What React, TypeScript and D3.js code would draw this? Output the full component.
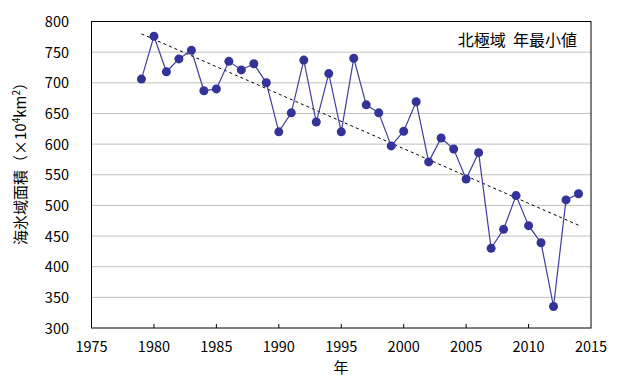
import React, { useEffect, useRef } from 'react';
import * as d3 from 'd3';

const years = [1979, 1980, 1981, 1982, 1983, 1984, 1985, 1986, 1987, 1988, 1989, 1990, 1991, 1992, 1993, 1994, 1995, 1996, 1997, 1998, 1999, 2000, 2001, 2002, 2003, 2004, 2005, 2006, 2007, 2008, 2009, 2010, 2011, 2012, 2013, 2014];
const iceArea = [706, 776, 718, 739, 753, 687, 690, 735, 721, 731, 700, 620, 651, 737, 636, 715, 620, 740, 664, 651, 597, 621, 669, 571, 610, 592, 543, 586, 430, 461, 516, 467, 439, 335, 509, 519];
const xTicks = [1975, 1980, 1985, 1990, 1995, 2000, 2005, 2010, 2015];
const yTicks = [300, 350, 400, 450, 500, 550, 600, 650, 700, 750, 800];
const title = '北極域  年最小値';

const App = () => {
	const ref = useRef<SVGSVGElement>(null);
	useEffect(() => drawChart(), []);

	function drawChart() {
		const svg = d3.select(ref.current);
		svg.selectAll('*').remove();
		const left = 91.5, right = 591, top = 21.5, bottom = 328;
		const font = "'Noto Sans CJK JP', 'Noto Sans', sans-serif";

		const x = d3.scaleLinear().domain([1975, 2015]).range([left, right]);
		const y = d3.scaleLinear().domain([300, 800]).range([bottom, top]);

		// gridlines
		svg.append('g').selectAll('line')
			.data(yTicks.filter(v => v > 300 && v < 800))
			.enter().append('line')
			.attr('x1', left).attr('x2', right)
			.attr('y1', d => y(d)).attr('y2', d => y(d))
			.attr('stroke', '#c0c0c0').attr('stroke-width', 1);

		// frame
		svg.append('rect')
			.attr('x', left).attr('y', top)
			.attr('width', right - left).attr('height', bottom - top)
			.attr('fill', 'none').attr('stroke', '#000').attr('stroke-width', 1);

		// x ticks (inside)
		svg.append('g').selectAll('line')
			.data(xTicks.slice(1, -1))
			.enter().append('line')
			.attr('x1', d => x(d)).attr('x2', d => x(d))
			.attr('y1', bottom).attr('y2', bottom - 4)
			.attr('stroke', '#000');

		svg.append('g').selectAll('text')
			.data(xTicks)
			.enter().append('text')
			.attr('x', d => x(d)).attr('y', 352)
			.attr('text-anchor', 'middle')
			.attr('font-family', font).attr('font-size', '14.5px')
			.text(d => d);

		svg.append('g').selectAll('text')
			.data(yTicks)
			.enter().append('text')
			.attr('x', 69).attr('y', d => y(d) + 5.5)
			.attr('text-anchor', 'end')
			.attr('font-family', font).attr('font-size', '14.5px')
			.text(d => d);

		// trend line (least squares)
		const mx = d3.mean(years)!, my = d3.mean(iceArea)!;
		const slope = d3.sum(years, (v, i) => (v - mx) * (iceArea[i] - my)) / d3.sum(years, v => (v - mx) * (v - mx));
		const trend = (v: number) => my + slope * (v - mx);
		const x0 = years[0], x1 = years[years.length - 1];
		svg.append('line')
			.attr('x1', x(x0)).attr('y1', y(trend(x0)))
			.attr('x2', x(x1)).attr('y2', y(trend(x1)))
			.attr('stroke', '#000').attr('stroke-width', 1)
			.attr('stroke-dasharray', '3,3');

		// series
		const line = d3.line<number>()
			.x((d, i) => x(years[i]))
			.y(d => y(d));
		svg.append('path')
			.datum(iceArea)
			.attr('d', line)
			.attr('fill', 'none')
			.attr('stroke', '#3f3fa0').attr('stroke-width', 1.2);
		svg.append('g').selectAll('circle')
			.data(iceArea)
			.enter().append('circle')
			.attr('cx', (d, i) => x(years[i]))
			.attr('cy', d => y(d))
			.attr('r', 4.5)
			.attr('fill', '#333399');

		// title
		svg.append('text')
			.attr('x', 577).attr('y', 45.5)
			.attr('text-anchor', 'end')
			.attr('font-family', font).attr('font-size', '16px')
			.attr('xml:space', 'preserve')
			.style('white-space', 'pre')
			.text(title);

		// axis titles
		svg.append('text')
			.attr('x', 341).attr('y', 373)
			.attr('text-anchor', 'middle')
			.attr('font-family', font).attr('font-size', '15px')
			.text('年');

		const yl = svg.append('text')
			.attr('transform', 'translate(26,160) rotate(-90)')
			.attr('text-anchor', 'middle')
			.attr('font-family', font).attr('font-size', '15px');
		yl.append('tspan').text('海氷域面積（×10');
		yl.append('tspan').attr('font-size', '10px').attr('dy', -6).text('4');
		yl.append('tspan').attr('dy', 6).text('km');
		yl.append('tspan').attr('font-size', '10px').attr('dy', -6).text('2');
		yl.append('tspan').attr('dy', 6).text('）');
	}

	return (
		<svg ref={ref} width={622} height={385}
			style={{ position: 'absolute', left: 0, top: 0, background: '#fff' }} />
	);
};

export default App;
